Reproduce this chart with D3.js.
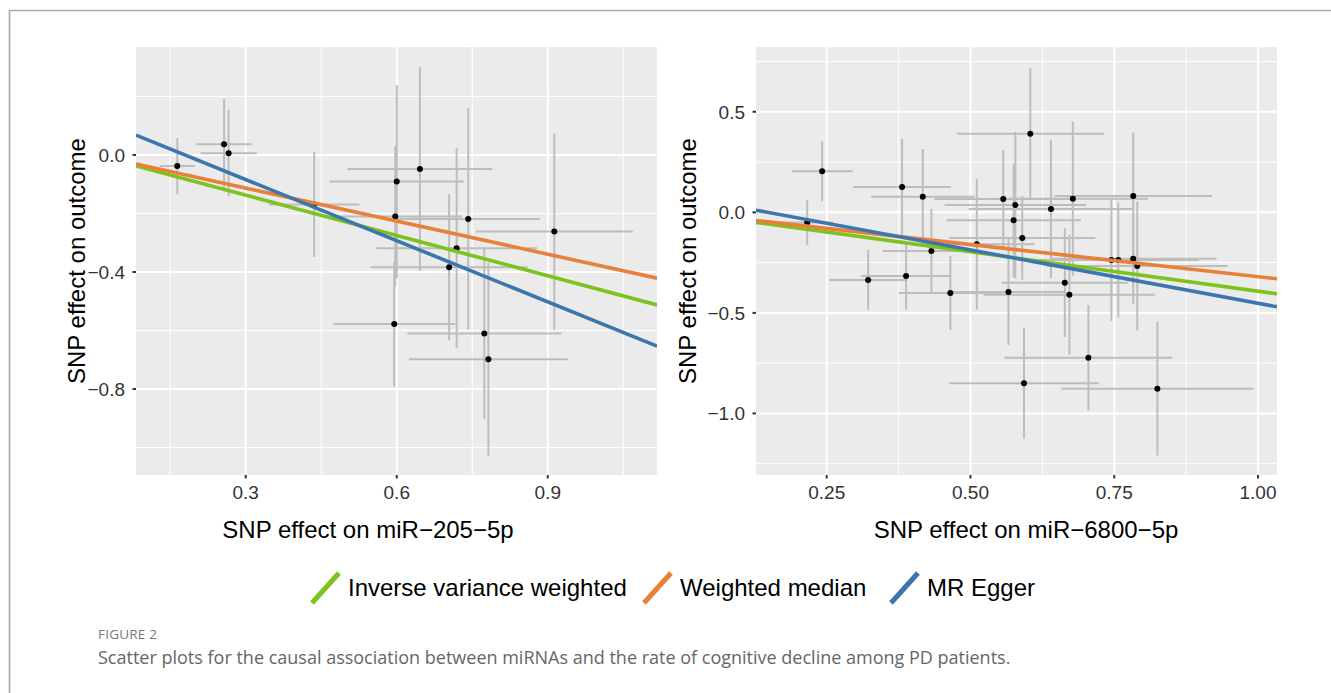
<!DOCTYPE html>
<html>
<head>
<meta charset="utf-8">
<script src="https://cdn.jsdelivr.net/npm/d3@7"></script>
<style>
  body { margin: 0; background: #fff; }
</style>
</head>
<body>
<div id="chart"></div>
<script>
// ---- data ----
// left panel: miR-205-5p
var leftX   = [0.164, 0.257, 0.266, 0.436, 0.600, 0.597, 0.646, 0.742, 0.913, 0.719, 0.704, 0.595, 0.774, 0.782]
var leftY   = [-0.038, 0.037, 0.006, -0.169, -0.091, -0.210, -0.048, -0.219, -0.262, -0.319, -0.384, -0.578, -0.610, -0.698]
var leftXse = [0.035, 0.055, 0.056, 0.090, 0.133, 0.133, 0.144, 0.142, 0.156, 0.160, 0.156, 0.121, 0.153, 0.158]
var leftYse = [0.096, 0.154, 0.148, 0.180, 0.330, 0.240, 0.348, 0.378, 0.336, 0.342, 0.250, 0.214, 0.293, 0.330]

// right panel: miR-6800-5p
var rightX   = [0.216, 0.242, 0.322, 0.381, 0.388, 0.417, 0.432, 0.465, 0.511, 0.557, 0.566, 0.575, 0.578, 0.590,
                0.593, 0.604, 0.640, 0.664, 0.672, 0.678, 0.705, 0.745, 0.757, 0.783, 0.783, 0.790, 0.825]
var rightY   = [-0.050, 0.204, -0.336, 0.126, -0.317, 0.078, -0.192, -0.401, -0.159, 0.066, -0.396, -0.040, 0.036, -0.128,
                -0.850, 0.391, 0.016, -0.350, -0.410, 0.068, -0.723, -0.237, -0.237, 0.081, -0.231, -0.267, -0.877]
var rightXse = [0.045, 0.053, 0.068, 0.085, 0.078, 0.090, 0.085, 0.090, 0.100, 0.120, 0.100, 0.117, 0.123, 0.127,
                0.130, 0.128, 0.143, 0.110, 0.149, 0.131, 0.146, 0.150, 0.140, 0.137, 0.145, 0.157, 0.167]
var rightYse = [0.112, 0.149, 0.149, 0.239, 0.167, 0.237, 0.209, 0.184, 0.326, 0.244, 0.264, 0.283, 0.364, 0.209,
                0.277, 0.328, 0.343, 0.270, 0.298, 0.383, 0.262, 0.303, 0.287, 0.315, 0.224, 0.320, 0.332]

// fitted lines: [intercept, slope]  IVW, weighted median, MR Egger
var methods = ["Inverse variance weighted", "Weighted median", "MR Egger"]
var colors  = ["#7dc21e", "#e8803a", "#3b76ae"]
var leftFits  = [[0, -0.459], [0, -0.377], [0.125, -0.697]]
var rightFits = [[0, -0.392], [0, -0.320], [0.078, -0.530]]

// ticks
var leftXTicks  = [0.3, 0.6, 0.9]
var leftYTicks  = [0.0, -0.4, -0.8]
var rightXTicks = [0.25, 0.50, 0.75, 1.00]
var rightYTicks = [0.5, 0.0, -0.5, -1.0]

var W = 1331, H = 693
var SANS = "'Liberation Sans', Arial, sans-serif"
var CAPTION_FONT = "'Open Sans', 'Noto Sans', sans-serif"

var svg = d3.select("#chart").append("svg")
  .attr("width", W).attr("height", H)
  .style("font-family", SANS)

// frame lines of the figure box
svg.append("line").attr("x1", 9).attr("x2", W).attr("y1", 10.5).attr("y2", 10.5)
  .attr("stroke", "#a9a9a9").attr("stroke-width", 1.6)
svg.append("line").attr("x1", 9.5).attr("x2", 9.5).attr("y1", 10).attr("y2", H)
  .attr("stroke", "#a9a9a9").attr("stroke-width", 1.6)

function fmt(d, dec){
  return d3.format("." + dec + "f")(d).replace("-", "\u2212")
}

function panel(opt){
  var x = d3.scaleLinear().domain(opt.xdom).range([opt.left, opt.right])
  var y = d3.scaleLinear().domain(opt.ydom).range([opt.bottom, opt.top])
  var g = svg.append("g")

  g.append("rect")
    .attr("x", opt.left).attr("y", opt.top)
    .attr("width", opt.right - opt.left).attr("height", opt.bottom - opt.top)
    .attr("fill", "#ebebeb")

  // minor grid: midpoints between major ticks
  var xs = opt.xticks[1] - opt.xticks[0]
  var ys = opt.yticks[0] - opt.yticks[1]
  var xminor = d3.range(opt.xticks[0] - xs / 2, opt.xdom[1], xs).filter(v => v > opt.xdom[0])
  var yminor = d3.range(opt.yticks[0] + ys / 2, opt.ydom[0], -ys).filter(v => v < opt.ydom[1])
  yminor = yminor.concat([opt.yticks[0] + ys / 2 + ys].filter(v => v < opt.ydom[1]))

  g.selectAll(".xmin").data(xminor).enter().append("line")
    .attr("x1", d => x(d)).attr("x2", d => x(d)).attr("y1", opt.top).attr("y2", opt.bottom)
    .attr("stroke", "#fff").attr("stroke-width", 1)
  g.selectAll(".ymin").data(yminor).enter().append("line")
    .attr("y1", d => y(d)).attr("y2", d => y(d)).attr("x1", opt.left).attr("x2", opt.right)
    .attr("stroke", "#fff").attr("stroke-width", 1)
  g.selectAll(".xmaj").data(opt.xticks).enter().append("line")
    .attr("x1", d => x(d)).attr("x2", d => x(d)).attr("y1", opt.top).attr("y2", opt.bottom)
    .attr("stroke", "#fff").attr("stroke-width", 2)
  g.selectAll(".ymaj").data(opt.yticks).enter().append("line")
    .attr("y1", d => y(d)).attr("y2", d => y(d)).attr("x1", opt.left).attr("x2", opt.right)
    .attr("stroke", "#fff").attr("stroke-width", 2)

  var clipId = "clip" + opt.id
  svg.append("clipPath").attr("id", clipId).append("rect")
    .attr("x", opt.left).attr("y", opt.top)
    .attr("width", opt.right - opt.left).attr("height", opt.bottom - opt.top)
  var plot = g.append("g").attr("clip-path", "url(#" + clipId + ")")

  var idx = d3.range(opt.px.length)
  // vertical error bars
  plot.selectAll(".ev").data(idx).enter().append("line")
    .attr("x1", i => x(opt.px[i])).attr("x2", i => x(opt.px[i]))
    .attr("y1", i => y(opt.py[i] - opt.pyse[i])).attr("y2", i => y(opt.py[i] + opt.pyse[i]))
    .attr("stroke", "#bdbdbd").attr("stroke-width", 2)
  // horizontal error bars
  plot.selectAll(".eh").data(idx).enter().append("line")
    .attr("y1", i => y(opt.py[i])).attr("y2", i => y(opt.py[i]))
    .attr("x1", i => x(opt.px[i] - opt.pxse[i])).attr("x2", i => x(opt.px[i] + opt.pxse[i]))
    .attr("stroke", "#bdbdbd").attr("stroke-width", 2)
  // points
  plot.selectAll(".pt").data(idx).enter().append("circle")
    .attr("cx", i => x(opt.px[i])).attr("cy", i => y(opt.py[i]))
    .attr("r", 3).attr("fill", "#000")
  // regression lines
  plot.selectAll(".fit").data(opt.fits).enter().append("line")
    .attr("x1", x(opt.xdom[0])).attr("x2", x(opt.xdom[1]))
    .attr("y1", d => y(d[0] + d[1] * opt.xdom[0]))
    .attr("y2", d => y(d[0] + d[1] * opt.xdom[1]))
    .attr("stroke", (d, i) => colors[i]).attr("stroke-width", 3.6)

  // axes
  g.selectAll(".xt").data(opt.xticks).enter().append("line")
    .attr("x1", d => x(d)).attr("x2", d => x(d)).attr("y1", opt.bottom).attr("y2", opt.bottom + 3.5)
    .attr("stroke", "#333").attr("stroke-width", 2)
  g.selectAll(".yt").data(opt.yticks).enter().append("line")
    .attr("y1", d => y(d)).attr("y2", d => y(d)).attr("x1", opt.left - 3.5).attr("x2", opt.left)
    .attr("stroke", "#333").attr("stroke-width", 2)
  g.selectAll(".xl").data(opt.xticks).enter().append("text")
    .attr("x", d => x(d)).attr("y", opt.bottom + 24)
    .attr("text-anchor", "middle").attr("font-size", 19).attr("fill", "#333")
    .text(d => fmt(d, opt.xdec))
  g.selectAll(".yl").data(opt.yticks).enter().append("text")
    .attr("x", opt.left - 11).attr("y", d => y(d) + 7)
    .attr("text-anchor", "end").attr("font-size", 19).attr("fill", "#333")
    .text(d => fmt(d, 1))

  g.append("text")
    .attr("x", opt.xlabX).attr("y", opt.bottom + 63)
    .attr("text-anchor", "middle").attr("font-size", 24).attr("fill", "#000")
    .text(opt.xlab)
  g.append("text")
    .attr("transform", "translate(" + opt.ylabX + "," + ((opt.top + opt.bottom) / 2) + ") rotate(-90)")
    .attr("text-anchor", "middle").attr("font-size", 24).attr("fill", "#000")
    .text("SNP effect on outcome")
}

panel({
  id: "L", left: 136, right: 657, top: 47, bottom: 475,
  xdom: [0.082, 1.117], ydom: [-1.094, 0.369],
  xticks: leftXTicks, yticks: leftYTicks, xdec: 1,
  px: leftX, py: leftY, pxse: leftXse, pyse: leftYse, fits: leftFits,
  xlab: "SNP effect on miR\u2212205\u22125p", xlabX: 368, ylabX: 85
})
panel({
  id: "R", left: 756, right: 1277, top: 47, bottom: 475,
  xdom: [0.127, 1.033], ydom: [-1.306, 0.822],
  xticks: rightXTicks, yticks: rightYTicks, xdec: 2,
  px: rightX, py: rightY, pxse: rightXse, pyse: rightYse, fits: rightFits,
  xlab: "SNP effect on miR\u22126800\u22125p", xlabX: 1026, ylabX: 696
})

// legend
var legendX = [310, 642, 889]
var lg = svg.append("g")
methods.forEach(function(m, i){
  lg.append("line")
    .attr("x1", legendX[i] + 2).attr("y1", 603).attr("x2", legendX[i] + 29).attr("y2", 573)
    .attr("stroke", colors[i]).attr("stroke-width", 5)
  lg.append("text")
    .attr("x", legendX[i] + 38).attr("y", 596)
    .attr("font-size", 24).attr("fill", "#000")
    .text(m)
})

// caption
svg.append("text")
  .attr("x", 98).attr("y", 639)
  .style("font-family", CAPTION_FONT)
  .attr("font-size", 13.5).attr("fill", "#777").attr("letter-spacing", 0.2)
  .text("FIGURE 2")
svg.append("text")
  .attr("x", 98).attr("y", 664)
  .style("font-family", CAPTION_FONT)
  .attr("font-size", 18).attr("fill", "#666")
  .text("Scatter plots for the causal association between miRNAs and the rate of cognitive decline among PD patients.")
</script>
</body>
</html>
